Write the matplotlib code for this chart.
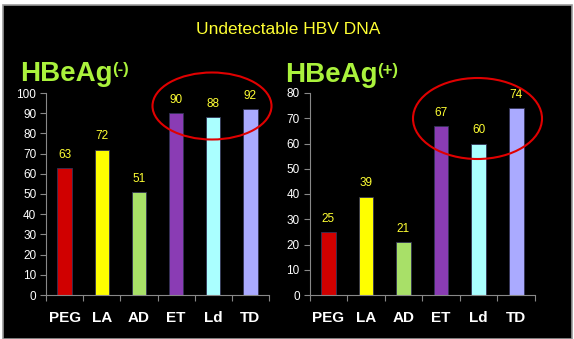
import matplotlib.pyplot as plt
from matplotlib.patches import Ellipse, Rectangle

plt.rcParams['font.family'] = ['Liberation Sans', 'DejaVu Sans']

drugs = ["PEG", "LA", "AD", "ET", "Ld", "TD"]
neg_values = [63, 72, 51, 90, 88, 92]
pos_values = [25, 39, 21, 67, 60, 74]
bar_colors = ['#d00000', '#ffff00', '#a8e068', '#8a3cb4', '#aaffff', '#aaaaff']

TEXT_YELLOW = '#ffff33'
LABEL_GREEN = '#aaf23c'

W, H = 574, 339
fig = plt.figure(figsize=(W / 100, H / 100), dpi=100, facecolor='white')

# black slide with grey frame
fig.patches.append(Rectangle((3 / W, 0), 569 / W, 1 - 5 / H, transform=fig.transFigure,
                             facecolor='black', edgecolor='#999999', linewidth=1.2, zorder=-10))

fig.text(288 / W, 1 - 29 / H, "Undetectable HBV DNA", color=TEXT_YELLOW,
         fontsize=12.5, ha='center', va='center')


def draw_panel(rect, values, ymax, label, sup):
    ax = fig.add_axes(rect)
    ax.set_facecolor('none')
    x = range(len(drugs))
    ax.bar(x, values, width=0.39, color=bar_colors, edgecolor='#333355', linewidth=0.6)
    for i, v in enumerate(values):
        ax.text(i, v + ymax * 0.035, str(v), color=TEXT_YELLOW, fontsize=8.5,
                ha='center', va='bottom')
    ax.set_xlim(-0.5, len(drugs) - 0.5)
    ax.set_ylim(0, ymax)
    ax.set_yticks(range(0, ymax + 1, 10))
    ax.set_xticks([i - 0.5 for i in range(len(drugs) + 1)])
    ax.set_xticklabels([])
    ax.tick_params(axis='y', colors='white', labelsize=8.5, length=4, color='#888888', pad=3)
    ax.tick_params(axis='x', length=4, color='#888888')
    for i, d in enumerate(drugs):
        ax.text(i, -0.115 * ymax, d, color='white', fontsize=11, fontweight='bold',
                ha='center', va='center')
    for s in ['top', 'right']:
        ax.spines[s].set_visible(False)
    for s in ['left', 'bottom']:
        ax.spines[s].set_color('#888888')
    fig.text(label[0], label[1], "HBeAg", color=LABEL_GREEN, fontsize=20,
             fontweight='bold', ha='left', va='baseline')
    fig.text(label[2], label[1] + 0.02, sup, color=LABEL_GREEN, fontsize=12,
             fontweight='bold', ha='left', va='baseline')
    return ax


draw_panel([46 / W, 1 - 295 / H, 223 / W, 202 / H], neg_values, 100,
           (20 / W, 1 - 81 / H, 112 / W), "(-)")
draw_panel([309.5 / W, 1 - 295 / H, 225.5 / W, 202 / H], pos_values, 80,
           (285 / W, 1 - 82 / H, 377 / W), "(+)")

fig.patches.append(Ellipse((212 / W, 1 - 106 / H), 119 / W, 67 / H, transform=fig.transFigure,
                           fill=False, edgecolor='#e00000', linewidth=1.5, zorder=5))
fig.patches.append(Ellipse((477.5 / W, 1 - 118.5 / H), 129 / W, 81 / H, transform=fig.transFigure,
                           fill=False, edgecolor='#e00000', linewidth=1.5, zorder=5))

fig.savefig("out.png", dpi=100, facecolor=fig.get_facecolor())
